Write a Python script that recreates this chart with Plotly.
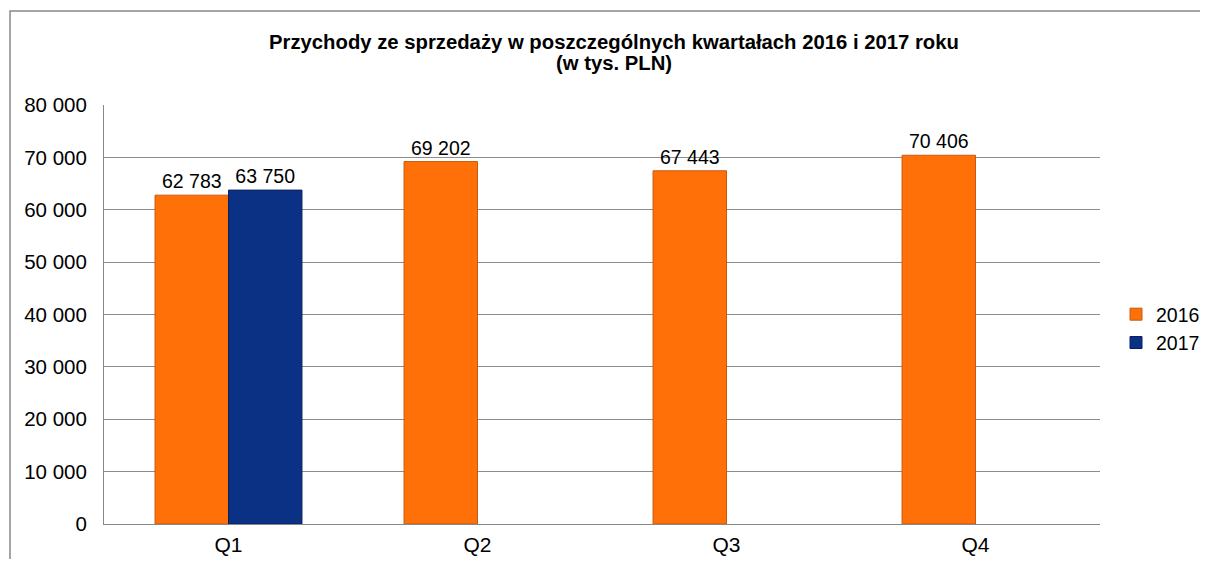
import plotly.graph_objects as go

categories = ["Q1", "Q2", "Q3", "Q4"]
values_2016 = [62783, 69202, 67443, 70406]
values_2017 = [63750, None, None, None]
series_names = ["2016", "2017"]
y_ticks = [0, 10000, 20000, 30000, 40000, 50000, 60000, 70000, 80000]
title_lines = ["Przychody ze sprzedaży w poszczególnych kwartałach 2016 i 2017 roku",
               "(w tys. PLN)"]

FONT = "Liberation Sans, Arial, sans-serif"
FS = 19.5

# page is rendered with an 8px body margin; work in figure pixel coords
OFF = 8
W, H = 1192, 551
L, T = 104 - OFF, 105 - OFF
PR = 1100 - OFF           # plot right in fig px
PB = 524 - OFF            # plot bottom in fig px
R, B = W - PR, H - PB
pw, ph = PR - L, PB - T


def px(xp):  # page x -> paper
    return (xp - OFF - L) / pw


def py(yp):  # page y -> paper
    return (PB - (yp - OFF)) / ph


fig = go.Figure()
fig.add_trace(go.Bar(
    x=categories, y=values_2016, name=series_names[0],
    marker=dict(color="#FF7008", line=dict(color="#C85A10", width=1)),
    texttemplate="%{y:,.0f}", textposition="outside",
    textfont=dict(size=FS, color="#000000", family=FONT),
    cliponaxis=False,
))
fig.add_trace(go.Bar(
    x=categories, y=values_2017, name=series_names[1],
    marker=dict(color="#0B3185", line=dict(color="#06205E", width=1)),
    texttemplate="%{y:,.0f}", textposition="outside",
    textfont=dict(size=FS, color="#000000", family=FONT),
    cliponaxis=False,
))

fig.update_layout(
    width=W, height=H, autosize=False,
    margin=dict(l=L, r=R, t=T, b=B, pad=0, autoexpand=False),
    paper_bgcolor="white", plot_bgcolor="white",
    separators=", ",
    barmode="group", bargap=0.41, bargroupgap=0,
    font=dict(family=FONT, size=FS, color="#000000"),
    legend=dict(
        xref="container", yref="container",
        x=(1116 - OFF) / W, y=1 - (295 - OFF) / H, xanchor="left", yanchor="top",
        font=dict(size=FS, family=FONT), itemwidth=30,
        bgcolor="rgba(0,0,0,0)",
    ),
    showlegend=True,
    xaxis=dict(
        showline=True, linecolor="#888888", linewidth=1, automargin=False,
        showgrid=False, ticks="", tickfont=dict(size=21), ticklabelstandoff=2,
    ),
    yaxis=dict(
        range=[0, 80000], tickvals=y_ticks, tickformat=",.0f", automargin=False,
        showline=True, linecolor="#888888", linewidth=1,
        showgrid=True, gridcolor="#8C8C8C", gridwidth=1,
        zeroline=False, ticks="", tickfont=dict(size=20.5), ticklabelstandoff=12,
    ),
)

fig.add_annotation(text="<b>" + title_lines[0] + "</b>", xref="paper", yref="paper",
                   x=px(614), y=py(42), xanchor="center", yanchor="middle",
                   showarrow=False, font=dict(size=20.3, family=FONT, color="#000000"))
fig.add_annotation(text="<b>" + title_lines[1] + "</b>", xref="paper", yref="paper",
                   x=px(614), y=py(63), xanchor="center", yanchor="middle",
                   showarrow=False, font=dict(size=20.3, family=FONT, color="#000000"))

fig.add_shape(
    type="rect", xref="paper", yref="paper",
    x0=px(10), x1=px(1240), y0=py(600), y1=py(11),
    line=dict(color="#888888", width=1.5), fillcolor="rgba(0,0,0,0)", layer="below",
)

fig.write_html("out.html")
